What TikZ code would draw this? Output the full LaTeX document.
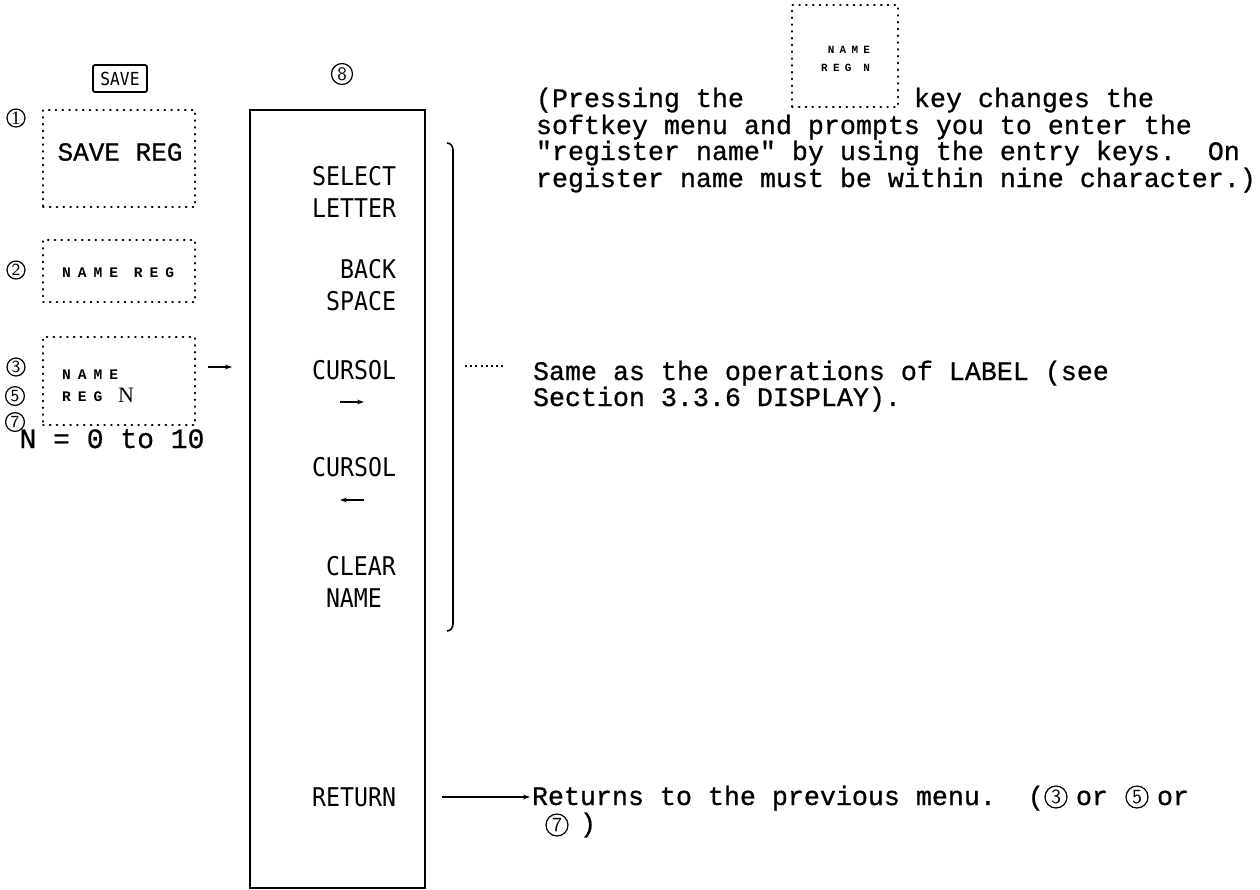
\documentclass[tikz,border=0pt]{standalone}
\usepackage{fontspec}
\setmainfont{Liberation Mono}
\newfontfamily\monofont[FakeBold=0.8]{Liberation Mono}
\newfontfamily\menufont[FakeStretch=0.9]{DejaVu Sans Mono}
\newfontfamily\keyfont[LetterSpace=48]{Liberation Mono}
\newfontfamily\seriffont{Liberation Serif}
\usetikzlibrary{arrows.meta,positioning}
\begin{document}
\begin{tikzpicture}[x=0.5pt,y=-0.5pt,
  every node/.style={inner sep=0pt, outer sep=0pt},
  keybox/.style={draw, line width=0.9pt, dash pattern=on 0.4pt off 3pt, line cap=round},
  cnum/.style={circle, draw, line width=0.6pt, inner sep=0pt, minimum size=9pt, font=\sffamily\fontsize{8.5}{8.5}\selectfont},
  cnumB/.style={circle, draw, line width=0.6pt, inner sep=0pt, minimum size=11pt, font=\sffamily\fontsize{10}{10}\selectfont},
  lbl/.style={font=\menufont\fontsize{12.9}{16}\selectfont},
  body/.style={font=\monofont\fontsize{13.33}{13.25}\selectfont},
  keytxt/.style={font=\keyfont\bfseries\fontsize{7.3}{9}\selectfont},
  keysmall/.style={font=\keyfont\bfseries\fontsize{5.5}{7}\selectfont},
  arr/.style={-{Stealth[length=3.5pt,width=2.4pt]}, line width=0.6pt},
]
\useasboundingbox (0,0) rectangle (1260,890);

% ---- left column ----
\node[draw, line width=0.9pt, rounded corners=1pt, minimum width=27pt, minimum height=13.5pt,
      font=\menufont\fontsize{9}{9}\selectfont] (savekey) at (120,78.5) {SAVE};

\node[keybox, minimum width=76pt, minimum height=48.5pt] (b1) at (119,158.5) {};
\node[font=\monofont\fontsize{13}{13}\selectfont] (t1) at (120,152) {SAVE REG};
\node[cnum, font=\seriffont\fontsize{9.5}{9.5}\selectfont] (c1) at (16,118) {1};

\node[keybox, minimum width=76pt, minimum height=31pt] (b2) at (119,271) {};
\node[keytxt, anchor=base west] (t2) at (62,277) {NAME REG};
\node[cnum] (c2) at (16,270) {2};

\node[keybox, minimum width=76pt, minimum height=44pt] (b3) at (119,381) {};
\node[keytxt, anchor=base west] (t3a) at (62,379) {NAME};
\node[keytxt, anchor=base west] (t3b) at (62,401) {REG};
\node[font=\seriffont\fontsize{11}{10}\selectfont, anchor=base west] (t3n) at (118,402) {N};
\node[cnum] (c3) at (16,367) {3};
\node[cnum, minimum size=9.4pt] (c5) at (15,396) {5};
\node[cnum, minimum size=9.4pt] (c7) at (15,422) {7};

\node[font=\monofont\fontsize{14}{14}\selectfont, anchor=base] (nr) at (112,448) {N = 0 to 10};

% ---- menu column ----
\node[cnum, minimum size=10.5pt, font=\sffamily\fontsize{9.5}{9.5}\selectfont] (c8) at (342,74) {8};
\node[draw, line width=0.8pt, minimum width=87.5pt, minimum height=389pt] (menu) at (337.5,499) {};

\draw[arr, shorten <=6.5pt, shorten >=9pt] (b3.east |- c3) -- (menu.west |- c3);

\node[lbl, align=right, anchor=east] (sel) at (396,191.5) {SELECT\\LETTER};
\node[lbl, align=right, anchor=east] (bs) at (396,285) {BACK\\SPACE};
\node[lbl, anchor=east] (cr) at (396,370) {CURSOL};
\coordinate (crA) at (340,402);
\coordinate (crB) at (364,402);
\draw[arr] (crA) -- (crB);
\node[lbl, anchor=east] (cl) at (396,467) {CURSOL};
\coordinate (clA) at (364,500);
\coordinate (clB) at (340,500);
\draw[arr] (clA) -- (clB);
\node[lbl, align=left, anchor=west] (clr) at (326,581.5) {CLEAR\\NAME};
\node[lbl, anchor=east] (ret) at (396,797) {RETURN};

% ---- bracket and leader ----
\draw[line width=0.8pt] (447,143) to[out=0,in=90] (453,150) -- (453,624) to[out=-90,in=0] (447,631);
\coordinate (brk) at (453,366);

% ---- top paragraph ----
\node[body, anchor=base west] (p1) at (536,107) {(Pressing the};
\node[keybox, minimum width=53pt, minimum height=51pt] (kb) at (845,56) {};
\node[keysmall, anchor=base east] (kn) at (870,53) {NAME};
\node[keysmall, anchor=base east] (kr) at (870,71) {REG N};
\node[body, anchor=base west] (p1b) at (914,107) {key changes the};
\node[body, anchor=base west] (p2) at (536,134) {softkey menu and prompts you to enter the};
\node[body, anchor=base west] (p3) at (536,160) {"register name" by using the entry keys.\ \ On};
\node[body, anchor=base west] (p4) at (536,187) {register name must be within nine character.)};

% ---- middle text ----
\node[body, anchor=base west] (same) at (533,380) {Same as the operations of LABEL (see};
\node[body, anchor=base west] (sec) at (533,406) {Section 3.3.6 DISPLAY).};
\draw[line width=0.6pt, dash pattern=on 1pt off 1.6pt, shorten <=6pt, shorten >=15pt] (brk) -- (same.west |- brk);

% ---- bottom text ----
\node[body, anchor=base west] (r1) at (532,805) {Returns to the previous menu.\ \ (};
\node[cnumB] (rc3) at (1056,797) {3};
\node[body, anchor=base west] (or1) at (1076,805) {or};
\node[cnumB] (rc5) at (1137,797) {5};
\node[body, anchor=base west] (or2) at (1157,805) {or};
\node[cnumB] (rc7) at (557,825) {7};
\node[body, anchor=west] (r2p) at ([xshift=6pt]rc7.east) {)};
\draw[arr, shorten <=8.5pt, shorten >=1pt] (menu.east |- ret) -- (r1.west |- ret);
\end{tikzpicture}
\end{document}
